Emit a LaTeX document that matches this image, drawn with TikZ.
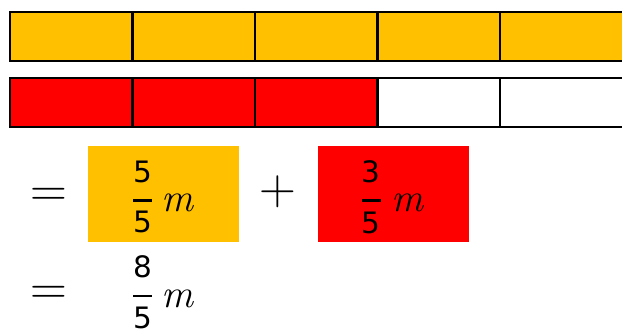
\documentclass[tikz,border=0pt]{standalone}
\usepackage{fontspec}
\newfontfamily\digitfont{DejaVu Sans}
\definecolor{gold}{HTML}{FFC000}

\begin{document}
\begin{tikzpicture}[
  x=1pt, y=-1pt,
  cell/.style={draw=black, line width=2.2pt},
  digit/.style={anchor=base, inner sep=0pt, font=\digitfont\fontsize{29.5}{32}\selectfont},
  unit/.style={anchor=base, inner sep=0pt, font=\itshape\fontsize{40}{44}\selectfont},
  op/.style={anchor=base, inner sep=0pt, font=\fontsize{51}{56}\selectfont},
  fbar/.style={line width=2.5pt},
  tag/.style={minimum width=151pt, minimum height=96pt, inner sep=0pt},
]
  \useasboundingbox (0,0) rectangle (622,334);

  % whole: 5 parts of 1/5 m
  \foreach \a/\b in {10/132.5, 132.5/255, 255/377.5, 377.5/500, 500/626}
    \draw[cell, fill=gold] (\a,12.2) rectangle (\b,61);
  % 3 parts coloured
  \foreach \a/\b/\c in {10/132.5/red, 132.5/255/red, 255/377.5/red, 377.5/500/white, 500/626/white}
    \draw[cell, fill=\c] (\a,78.2) rectangle (\b,127.3);

  % = 5/5 m + 3/5 m
  \node[tag, fill=gold] (box5) at (163.5,194) {};
  \node[tag, fill=red]  (box3) at (393.5,194) {};
  \node[op] (eq1) at (48.5,206.2) {=};
  \node[op] (plus) at (277.5,204.7) {+};

  \node[digit] (n5) at (142.5,183) {5};
  \node[digit] (d5) at (142.5,233) {5};
  \draw[fbar] (133,200.5) -- (152,200.5);
  \node[unit] (m5) at (177,212) {m};

  \node[digit] (n3) at (371,183) {3};
  \node[digit] (d3) at (371,234) {5};
  \draw[fbar] (361.5,200.5) -- (380.5,200.5);
  \node[unit] (m3) at (407.5,211.5) {m};

  % = 8/5 m
  \node[op] (eq2) at (48.5,304.7) {=};
  \node[digit] (n8) at (142.5,278) {8};
  \node[digit] (d8) at (142.5,328) {5};
  \draw[fbar] (133,296.2) -- (152,296.2);
  \node[unit] (m8) at (177,307) {m};
\end{tikzpicture}
\end{document}
